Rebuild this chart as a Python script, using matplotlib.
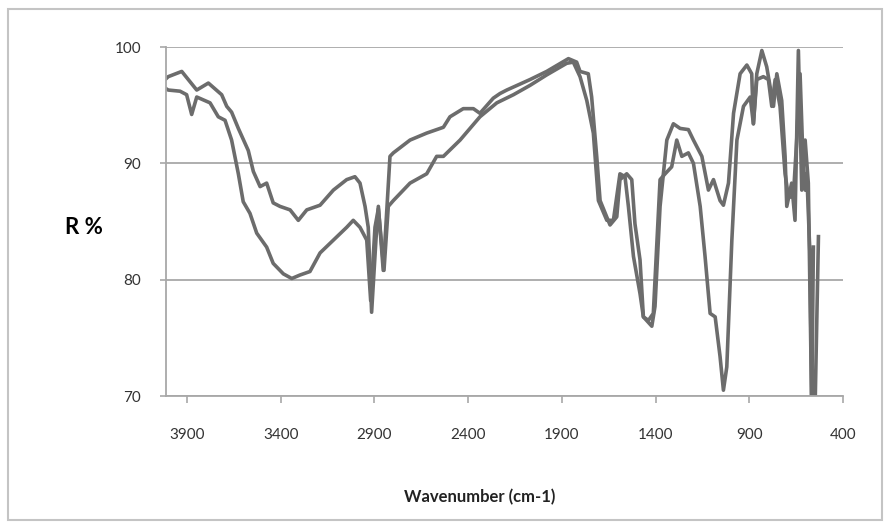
import numpy as np
import matplotlib
matplotlib.use("Agg")
import matplotlib.pyplot as plt
from matplotlib.patches import Rectangle

plt.rcParams['font.family'] = ['Lato', 'DejaVu Sans']

### spectrum data (wavenumber cm-1, R %)
wn_a = [4010, 4000, 3928, 3848, 3786, 3715, 3688, 3662, 3626, 3573, 3546, 3510, 3475, 3440,
        3404, 3350, 3306, 3261, 3190, 3119, 3048, 3004, 2977, 2950, 2933, 2915, 2892, 2879,
        2853, 2817, 2799, 2710, 2621, 2532, 2497, 2426, 2372, 2337, 2266, 2230, 2194, 2070,
        1981, 1865, 1821, 1803, 1759, 1741, 1714, 1696, 1643, 1607, 1590, 1554, 1527, 1510,
        1483, 1465, 1420, 1403, 1376, 1340, 1305, 1269, 1225, 1198, 1153, 1118, 1091, 1056,
        1038, 1011, 984, 949, 913, 887, 878, 860, 833, 807, 771, 753, 727, 709, 700, 674,
        656, 638, 620, 602, 585, 567, 549, 531]
r_a = [97.3, 97.45, 97.9, 96.3, 96.9, 95.9, 94.9, 94.4, 93.0, 91.1, 89.3, 88.0, 88.3, 86.6,
       86.3, 86.0, 85.1, 86.0, 86.4, 87.7, 88.6, 88.85, 88.3, 86.3, 84.5, 77.2, 83.4, 86.3,
       80.8, 90.6, 90.9, 92.0, 92.6, 93.1, 94.0, 94.7, 94.7, 94.3, 95.6, 96.0, 96.3, 97.2,
       97.9, 99.0, 98.7, 97.9, 97.7, 95.7, 90.6, 86.8, 84.7, 85.4, 88.6, 89.1, 88.6, 84.8,
       81.7, 76.8, 76.0, 77.7, 86.3, 92.0, 93.4, 93.0, 92.9, 92.0, 90.6, 87.7, 88.6, 86.8,
       86.4, 88.3, 94.3, 97.7, 98.45, 97.7, 93.4, 97.7, 99.7, 98.3, 94.9, 97.7, 95.4, 90.6,
       86.3, 88.3, 85.1, 99.7, 87.7, 92.0, 88.3, 69.0, 69.0, 83.7]

wn_b = [4010, 4000, 3937, 3902, 3875, 3848, 3777, 3733, 3697, 3662, 3626, 3600, 3564, 3528,
        3475, 3440, 3386, 3341, 3297, 3244, 3190, 3119, 3048, 3013, 2977, 2941, 2920, 2897,
        2879, 2849, 2826, 2799, 2710, 2621, 2568, 2532, 2443, 2337, 2247, 2158, 2070, 1981,
        1874, 1839, 1803, 1767, 1732, 1705, 1660, 1625, 1590, 1563, 1545, 1518, 1483, 1465,
        1438, 1412, 1376, 1349, 1314, 1287, 1260, 1225, 1198, 1162, 1136, 1109, 1082, 1056,
        1038, 1020, 993, 966, 931, 895, 878, 860, 825, 798, 780, 762, 736, 709, 691, 665,
        647, 629, 614, 602, 593, 576, 567, 558]
r_b = [96.4, 96.3, 96.2, 95.9, 94.2, 95.7, 95.2, 94.0, 93.7, 92.0, 89.1, 86.7, 85.7, 84.0,
       82.8, 81.4, 80.5, 80.1, 80.4, 80.7, 82.3, 83.4, 84.5, 85.1, 84.5, 83.4, 78.2, 84.5,
       86.1, 80.8, 86.3, 86.8, 88.3, 89.1, 90.6, 90.6, 92.0, 94.0, 95.2, 95.9, 96.7, 97.6,
       98.6, 98.7, 97.45, 95.4, 92.6, 86.8, 85.1, 85.1, 89.1, 88.85, 86.3, 82.0, 78.8, 76.8,
       76.5, 77.1, 88.6, 89.1, 89.7, 92.0, 90.6, 90.9, 90.0, 86.3, 82.0, 77.1, 76.8, 73.4,
       70.5, 72.5, 83.4, 92.0, 94.9, 95.7, 93.4, 97.2, 97.45, 97.2, 94.9, 97.2, 94.9, 89.1,
       87.1, 87.1, 92.0, 97.7, 90.6, 87.7, 89.1, 82.0, 69.0, 82.8]

x_ticks = [3900, 3400, 2900, 2400, 1900, 1400, 900, 400]
y_ticks = [70, 80, 90, 100]

### plot
fig = plt.figure(figsize=(8.88, 5.29), dpi=100)
fig.patches.append(Rectangle((8/888, 9/529), 874/888, 511/529, transform=fig.transFigure,
                             fill=False, edgecolor='#c4c4c4', linewidth=1.5))
ax = fig.add_axes([166/888, 1-396/529, 677/888, 349/529])

line_col = '#6c6c6c'
ax.plot(wn_b, r_b, color=line_col, lw=2.6, solid_joinstyle='round', clip_on=True)
ax.plot(wn_a, r_a, color=line_col, lw=2.6, solid_joinstyle='round', clip_on=True)

ax.set_xlim(4012, 400)
ax.set_ylim(70, 100)
ax.set_xticks(x_ticks)
ax.set_yticks(y_ticks)
ax.yaxis.grid(True, color='#a8a8a8', lw=1.3)
ax.set_axisbelow(True)

for s in ['top', 'right']:
    ax.spines[s].set_visible(False)
for s in ['left', 'bottom']:
    ax.spines[s].set_color('#a8a8a8')
    ax.spines[s].set_linewidth(1.3)

ax.tick_params(axis='x', direction='out', length=5, width=1.2, color='#a8a8a8',
               pad=18, labelsize=11, labelcolor='#333333')
ax.tick_params(axis='y', direction='out', length=4, width=1.2, color='#a8a8a8',
               pad=14, labelsize=11, labelcolor='#333333')

fig.text(84/888, 1-228/529, 'R %', fontsize=16, fontweight='bold', ha='center', va='center')
fig.text(480/888, 1-497/529, 'Wavenumber (cm-1)', fontsize=12, fontweight='bold',
         ha='center', va='center', color='#222222')

plt.savefig('out.png', dpi=100)
